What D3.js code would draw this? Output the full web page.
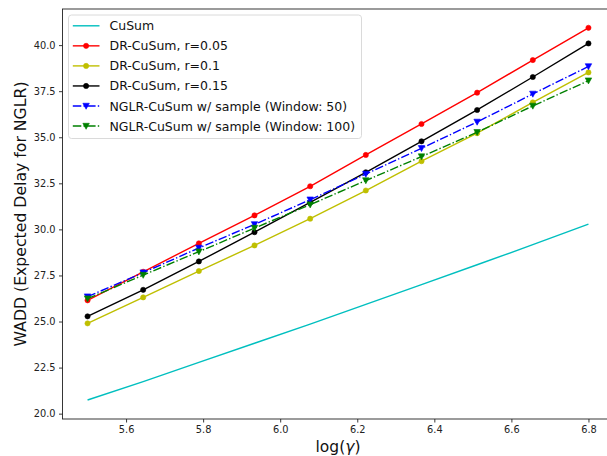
<!DOCTYPE html>
<html>
<head>
<meta charset="utf-8">
<script src="https://cdn.jsdelivr.net/npm/d3@7"></script>
<style>
  html, body { margin: 0; padding: 0; background: #fff; }
  svg { display: block; font-family: "DejaVu Sans", sans-serif; }
</style>
</head>
<body>
<svg id="chart" width="607" height="456"></svg>
<script>
"use strict";

// ── data ───────────────────────────────────────────────────
const logGamma = [5.5, 5.6444, 5.7889, 5.9333, 6.0778, 6.2222, 6.3667, 6.5111, 6.6556, 6.8];

const cusum     = [20.74, 21.74, 22.78, 23.82, 24.86, 25.93, 27.0, 28.08, 29.17, 30.29];
const drR005    = [26.15, 27.70, 29.24, 30.76, 32.34, 34.04, 35.72, 37.42, 39.19, 40.94];
const drR01     = [24.90, 26.31, 27.74, 29.13, 30.58, 32.11, 33.70, 35.22, 36.89, 38.52];
const drR015    = [25.28, 26.72, 28.26, 29.85, 31.46, 33.10, 34.78, 36.48, 38.27, 40.09];
const nglrWin50 = [26.35, 27.65, 28.99, 30.27, 31.61, 33.00, 34.40, 35.83, 37.35, 38.84];
const nglrWin100 = [26.24, 27.52, 28.79, 30.07, 31.34, 32.65, 33.95, 35.27, 36.70, 38.07];

const xTicks = [5.6, 5.8, 6.0, 6.2, 6.4, 6.6, 6.8];
const yTicks = [20.0, 22.5, 25.0, 27.5, 30.0, 32.5, 35.0, 37.5, 40.0];

const seriesList = [
    { label: "CuSum",                                values: cusum,      color: "#00bfbf", marker: null,   dash: null },
    { label: "DR-CuSum, r=0.05",                     values: drR005,     color: "#ff0000", marker: "o",    dash: null },
    { label: "DR-CuSum, r=0.1",                      values: drR01,      color: "#bfbf00", marker: "o",    dash: null },
    { label: "DR-CuSum, r=0.15",                     values: drR015,     color: "#000000", marker: "o",    dash: null },
    { label: "NGLR-CuSum w/ sample (Window: 50)",    values: nglrWin50,  color: "#0000ff", marker: "v",    dash: "8.5,2.2,1.4,2.2" },
    { label: "NGLR-CuSum w/ sample (Window: 100)",   values: nglrWin100, color: "#008000", marker: "v",    dash: "8.5,2.2,1.4,2.2" },
];

// ── layout ────────────────────────────────────────────────
const PLOT = { left: 62.5, right: 613.5, top: 9, bottom: 419 };

const svg = d3.select("#chart");

const x = d3.scaleLinear().domain([5.435, 6.865]).range([PLOT.left, PLOT.right]);
const y = d3.scaleLinear().domain([19.71, 41.96]).range([PLOT.bottom, PLOT.top]);

// axes
const xAxis = d3.axisBottom(x).tickValues(xTicks).tickFormat(d3.format(".1f")).tickSize(3.5).tickPadding(3.5);
const yAxis = d3.axisLeft(y).tickValues(yTicks).tickFormat(d3.format(".1f")).tickSize(3.5).tickPadding(3.5);

const gx = svg.append("g").attr("transform", `translate(0,${PLOT.bottom})`).call(xAxis);
const gy = svg.append("g").attr("transform", `translate(${PLOT.left},0)`).call(yAxis);

[gx, gy].forEach(g => {
    g.select(".domain").remove();
    g.selectAll(".tick line").attr("stroke", "#222").attr("stroke-width", 0.9);
    g.selectAll(".tick text").attr("fill", "#222").attr("font-size", "9.8px")
        .attr("font-family", "DejaVu Sans, sans-serif");
});

// spines
const spines = svg.append("g").attr("stroke", "#222").attr("stroke-width", 0.9).attr("fill", "none");
spines.append("rect")
    .attr("x", PLOT.left).attr("y", PLOT.top)
    .attr("width", PLOT.right - PLOT.left).attr("height", PLOT.bottom - PLOT.top);

// axis labels
svg.append("text")
    .attr("x", x(6.15)).attr("y", 451.5)
    .attr("text-anchor", "middle").attr("font-size", "15.5px").attr("fill", "#111")
    .html('log(<tspan font-style="italic">γ</tspan>)');

svg.append("text")
    .attr("transform", `translate(25.5,${(PLOT.top + PLOT.bottom) / 2}) rotate(-90)`)
    .attr("text-anchor", "middle").attr("font-size", "15.7px").attr("fill", "#111")
    .text("WADD (Expected Delay for NGLR)");

// ── lines & markers ───────────────────────────────────────
const plotArea = svg.append("g");
const line = d3.line().x((d, i) => x(logGamma[i])).y(d => y(d));

function drawMarker(g, type, cx, cy, color, size) {
    if (type === "o") {
        g.append("circle").attr("cx", cx).attr("cy", cy).attr("r", size)
            .attr("fill", color).attr("stroke", color).attr("stroke-width", 0.6);
    } else if (type === "v") {
        const s = size * 1.25;
        g.append("path")
            .attr("d", `M${cx - s},${cy - s * 0.85}L${cx + s},${cy - s * 0.85}L${cx},${cy + s}Z`)
            .attr("fill", color).attr("stroke", color).attr("stroke-width", 0.6);
    }
}

seriesList.forEach(s => {
    const g = plotArea.append("g");
    g.append("path")
        .datum(s.values)
        .attr("d", line)
        .attr("fill", "none")
        .attr("stroke", s.color)
        .attr("stroke-width", 1.4)
        .attr("stroke-dasharray", s.dash);
    if (s.marker) {
        s.values.forEach((v, i) => drawMarker(g, s.marker, x(logGamma[i]), y(v), s.color, 2.6));
    }
});

// ── legend ────────────────────────────────────────────────
const LEG = { x: 68.5, y: 15, w: 293, h: 123.5, rowY: 25.8, rowStep: 20.05 };
const legend = svg.append("g");
legend.append("rect")
    .attr("x", LEG.x).attr("y", LEG.y).attr("width", LEG.w).attr("height", LEG.h)
    .attr("rx", 3).attr("fill", "#fff").attr("fill-opacity", 0.8)
    .attr("stroke", "#d6d6d6").attr("stroke-width", 0.9);

seriesList.forEach((s, i) => {
    const ry = LEG.rowY + i * LEG.rowStep;
    legend.append("line")
        .attr("x1", 72.8).attr("x2", 99.5).attr("y1", ry).attr("y2", ry)
        .attr("stroke", s.color).attr("stroke-width", 1.4)
        .attr("stroke-dasharray", s.dash);
    if (s.marker) drawMarker(legend, s.marker, 86.1, ry, s.color, 2.6);
    legend.append("text")
        .attr("x", 109.5).attr("y", ry).attr("dy", "0.36em")
        .attr("font-size", "12.5px").attr("fill", "#111")
        .text(s.label);
});
</script>
</body>
</html>
